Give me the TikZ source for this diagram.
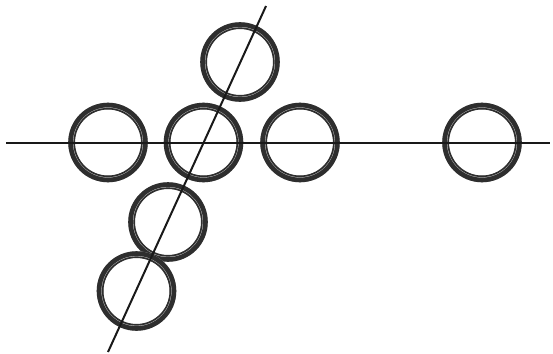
\documentclass[tikz,border=0pt]{standalone}
\definecolor{ringdark}{HTML}{2E2E2E}
\definecolor{ringlight}{HTML}{B8B8B8}
\tikzset{
  ringnode/.style={circle, inner sep=0pt, minimum size=80pt},
  axisline/.style={line width=2pt, draw=black!90},
}
\newcommand{\myring}[1]{%
  \fill[ringlight] (#1) circle (39.8pt);
  \fill[white] (#1) circle (33pt);
  \draw[ringdark, line width=4.6pt] (#1) circle (37.5pt);
  \draw[ringdark, line width=1.6pt] (#1) circle (33.8pt);
}
\begin{document}
\begin{tikzpicture}[x=1pt,y=-1pt]
\useasboundingbox (0,0) rectangle (553,353);
\node[ringnode] (r1) at (108,142.5) {};
\node[ringnode] (r2) at (203.5,142.5) {};
\node[ringnode] (r3) at (300,142.5) {};
\node[ringnode] (r4) at (482,142.5) {};
\node[ringnode] (r5) at (240,62) {};
\node[ringnode] (r6) at (168,222) {};
\node[ringnode] (r7) at (136.5,291) {};
\foreach \r in {r1,r2,r3,r4,r5,r6,r7} {\myring{\r}}
\coordinate (hl) at (6,143);
\coordinate (hr) at (550,143);
\coordinate (st) at (266,6);
\coordinate (sb) at (108,352);
\draw[axisline] (hl) -- (hr);
\draw[axisline] (st) -- (sb);
\end{tikzpicture}
\end{document}
